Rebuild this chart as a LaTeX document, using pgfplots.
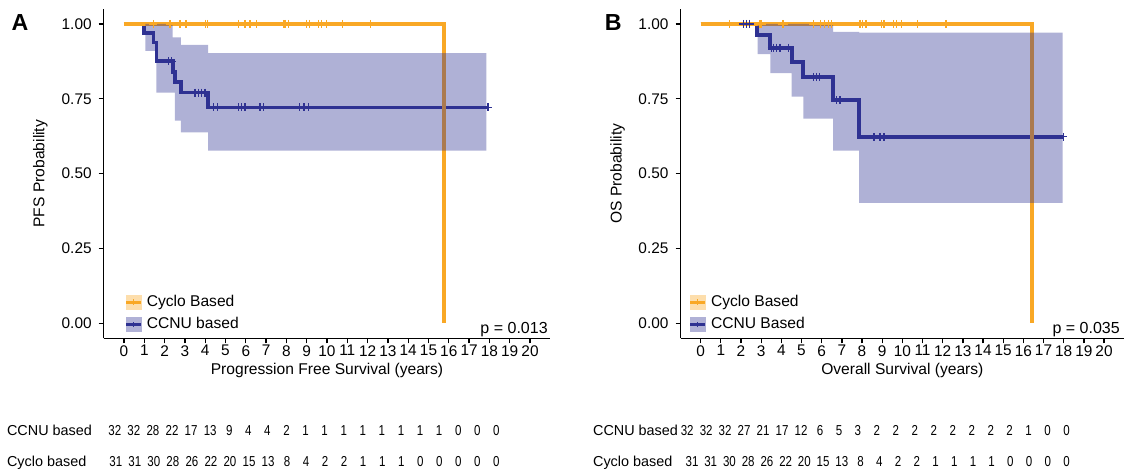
\documentclass[border=0pt]{standalone}
\usepackage{fontspec}
\setmainfont{Liberation Sans}
\usepackage{pgfplots}
\pgfplotsset{compat=1.18}

\definecolor{cyclo}{RGB}{249,168,37}
\definecolor{ccnu}{RGB}{46,49,146}

\newcommand{\lblfont}{\fontsize{7.8}{9}\selectfont}
\newcommand{\tabfont}{\fontsize{7.2}{8.5}\selectfont}
\newcommand{\num}[1]{\scalebox{0.8}[1]{#1}}

\pgfplotsset{
  km/.style={
    scale only axis, height=164.65pt,
    xmin=-1, xmax=21, ymin=-0.05, ymax=1.05,
    axis lines=left, axis line style={-, line width=0.65pt},
    tick align=outside, major tick length=2.5pt,
    tick style={black, line width=0.65pt},
    xtick={0,...,20}, ytick={0,0.25,0.5,0.75,1},
    tick label style={font=\fontsize{7.7}{9}\selectfont},
    xticklabel style={yshift=2.5pt, /pgf/number format/assume math mode=true},
    yticklabel style={/pgf/number format/.cd, fixed, fixed zerofill, precision=2, assume math mode=true},
    label style={font=\lblfont},
    xlabel style={at={(axis description cs:0.5,-0.098)}, anchor=center},
    ylabel style={at={(axis description cs:-0.142,0.5)}, anchor=center},
    clip=false,
    legend cell align=left,
    legend style={draw=none, fill=none, inner sep=0pt, row sep=0pt, font=\lblfont},
  },
  band/.style={fill=ccnu, fill opacity=0.38, draw=none, forget plot},
  step/.style={const plot, line width=1.9pt, forget plot},
  cens/.style={only marks, mark=+, mark size=2pt, line width=0.6pt, forget plot},
  keycyclo/.style={legend image code/.code={
    \fill[cyclo!38] (0pt,-3.5pt) rectangle (7.5pt,3.5pt);
    \draw[cyclo, line width=1.6pt] (0pt,0pt) -- (7.5pt,0pt);
    \draw[cyclo, line width=0.5pt] (3.75pt,-1.4pt) -- (3.75pt,1.4pt);}},
  keyccnu/.style={legend image code/.code={
    \fill[ccnu!38] (0pt,-3.5pt) rectangle (7.5pt,3.5pt);
    \draw[ccnu, line width=1.6pt] (0pt,0pt) -- (7.5pt,0pt);
    \draw[ccnu, line width=0.5pt] (3.75pt,-1.4pt) -- (3.75pt,1.4pt);}},
}

\begin{document}
\begin{tikzpicture}
\path[use as bounding box] (0pt,0pt) rectangle (565pt,236.5pt);

% ---- panel A: progression free survival
\begin{axis}[km, at={(51.85pt,67.35pt)}, anchor=south west, width=223.3pt,
  xlabel={Progression Free Survival (years)}, ylabel={PFS Probability},
  legend style={at={(axis description cs:0.046,0.145)}, anchor=north west}]
\addplot[step, ccnu] coordinates {
  (0,1) (1.0,0.969) (1.45,0.938) (1.6,0.875) (2.4,0.840) (2.5,0.805)
  (2.8,0.771) (4.15,0.721) (17.93,0.721)};
\addplot[step, cyclo] coordinates {(0,1) (15.76,1) (15.76,0)};
\addplot[band] coordinates {
  (1.05,1) (2.4,1) (2.4,0.955) (2.8,0.955) (2.8,0.93) (4.15,0.93)
  (4.15,0.903) (17.85,0.903)
  (17.85,0.577) (4.15,0.577) (4.15,0.638) (2.8,0.638) (2.8,0.677)
  (2.5,0.677) (2.5,0.771) (1.6,0.771) (1.6,0.91) (1.05,0.91)} -- cycle;
\addplot[cens, cyclo] coordinates {
  (1.45,1) (2.27,1) (2.76,1) (3.05,1) (4.0,1) (4.1,1) (5.63,1) (5.96,1)
  (6.21,1) (6.54,1) (7.85,1) (7.93,1) (8.1,1) (9.0,1) (9.13,1) (9.57,1)
  (9.74,1) (9.98,1) (10.77,1) (12.15,1)};
\addplot[cens, ccnu] coordinates {
  (2.18,0.875) (2.35,0.875)
  (3.5,0.771) (3.66,0.771) (3.83,0.771) (3.99,0.771)
  (4.4,0.721) (4.6,0.721) (5.63,0.721) (5.8,0.721) (5.96,0.721)
  (6.7,0.721) (6.86,0.721) (8.64,0.721) (8.87,0.721) (9.08,0.721)
  (17.93,0.721)};
\addlegendimage{keycyclo}
\addlegendentry{Cyclo Based}
\addlegendimage{keyccnu}
\addlegendentry{CCNU based}
\node[anchor=base east, inner sep=0pt, font=\fontsize{8}{9}\selectfont]
  at (axis cs:20.89,-0.033) {p = 0.013};
\end{axis}

% ---- panel B: overall survival
\begin{axis}[km, at={(340.25pt,67.35pt)}, anchor=south west, width=221.85pt,
  xlabel={Overall Survival (years)}, ylabel={OS Probability},
  legend style={at={(axis description cs:0.018,0.145)}, anchor=north west}]
\addplot[step, ccnu] coordinates {
  (0,1) (2.78,0.963) (3.45,0.921) (4.51,0.874) (5.09,0.823)
  (6.57,0.746) (7.86,0.623) (17.98,0.623)};
\addplot[step, cyclo] coordinates {(0,1) (16.44,1) (16.44,0)};
\addplot[band] coordinates {
  (2.82,1) (6.57,1) (6.57,0.974) (7.86,0.974) (7.86,0.971) (17.95,0.971)
  (17.95,0.402) (7.86,0.402) (7.86,0.577) (6.57,0.577) (6.57,0.684)
  (5.09,0.684) (5.09,0.757) (4.51,0.757) (4.51,0.836) (3.45,0.836)
  (3.45,0.899) (2.82,0.899)} -- cycle;
\addplot[cens, cyclo] coordinates {
  (1.42,1) (2.94,1) (3.02,1) (4.05,1) (4.12,1) (5.58,1) (5.93,1)
  (6.13,1) (6.33,1) (6.5,1) (7.9,1) (8.03,1) (8.2,1) (8.97,1) (9.09,1)
  (9.55,1) (9.72,1) (9.97,1) (10.76,1) (12.16,1)};
\addplot[cens, ccnu] coordinates {
  (2.11,1) (2.28,1) (2.44,1)
  (3.52,0.921) (3.6,0.921) (3.77,0.921) (3.93,0.921) (4.34,0.921)
  (5.58,0.823) (5.75,0.823) (5.91,0.823)
  (6.74,0.746) (6.91,0.746)
  (8.59,0.623) (8.89,0.623) (9.09,0.623) (17.98,0.623)};
\addlegendimage{keycyclo}
\addlegendentry{Cyclo Based}
\addlegendimage{keyccnu}
\addlegendentry{CCNU Based}
\node[anchor=base east, inner sep=0pt, font=\fontsize{8}{9}\selectfont]
  at (axis cs:20.8,-0.033) {p = 0.035};
\end{axis}

% ---- panel letters and numbers at risk (pixel grid of the reference)
\begin{scope}[x=0.5pt, y=-0.5pt, shift={(0pt,236.5pt)}]
\node[anchor=base west, inner sep=0pt, font=\bfseries\fontsize{11.6}{12}\selectfont] at (11.2,30) {A};
\node[anchor=base west, inner sep=0pt, font=\bfseries\fontsize{11.6}{12}\selectfont] at (604.5,30) {B};

\node[anchor=base west, inner sep=0pt, font=\tabfont] at (6.7,435) {CCNU based};
\node[anchor=base west, inner sep=0pt, font=\tabfont] at (6.7,466.5) {Cyclo based};
\foreach \v [count=\i from 0] in {32,32,28,22,17,13,9,4,4,2,1,1,1,1,1,1,1,1,0,0,0}
  \node[anchor=base, inner sep=0pt, font=\tabfont] at ({114.8+19.08*\i},435) {\num{\v}};
\foreach \v [count=\i from 0] in {31,31,30,28,26,22,20,15,13,8,4,2,2,1,1,1,0,0,0,0,0}
  \node[anchor=base, inner sep=0pt, font=\tabfont] at ({115.8+19.03*\i},466.5) {\num{\v}};

\node[anchor=base west, inner sep=0pt, font=\tabfont] at (592.7,435) {CCNU based};
\node[anchor=base west, inner sep=0pt, font=\tabfont] at (592.7,466.5) {Cyclo based};
\foreach \v [count=\i from 0] in {32,32,32,27,21,17,12,6,5,3,2,2,2,2,2,2,2,2,1,0,0}
  \node[anchor=base, inner sep=0pt, font=\tabfont] at ({687.2+18.97*\i},435) {\num{\v}};
\foreach \v [count=\i from 0] in {31,31,30,28,26,22,20,15,13,8,4,2,2,1,1,1,1,0,0,0,0}
  \node[anchor=base, inner sep=0pt, font=\tabfont] at ({692+18.73*\i},466.5) {\num{\v}};
\end{scope}
\end{tikzpicture}
\end{document}
